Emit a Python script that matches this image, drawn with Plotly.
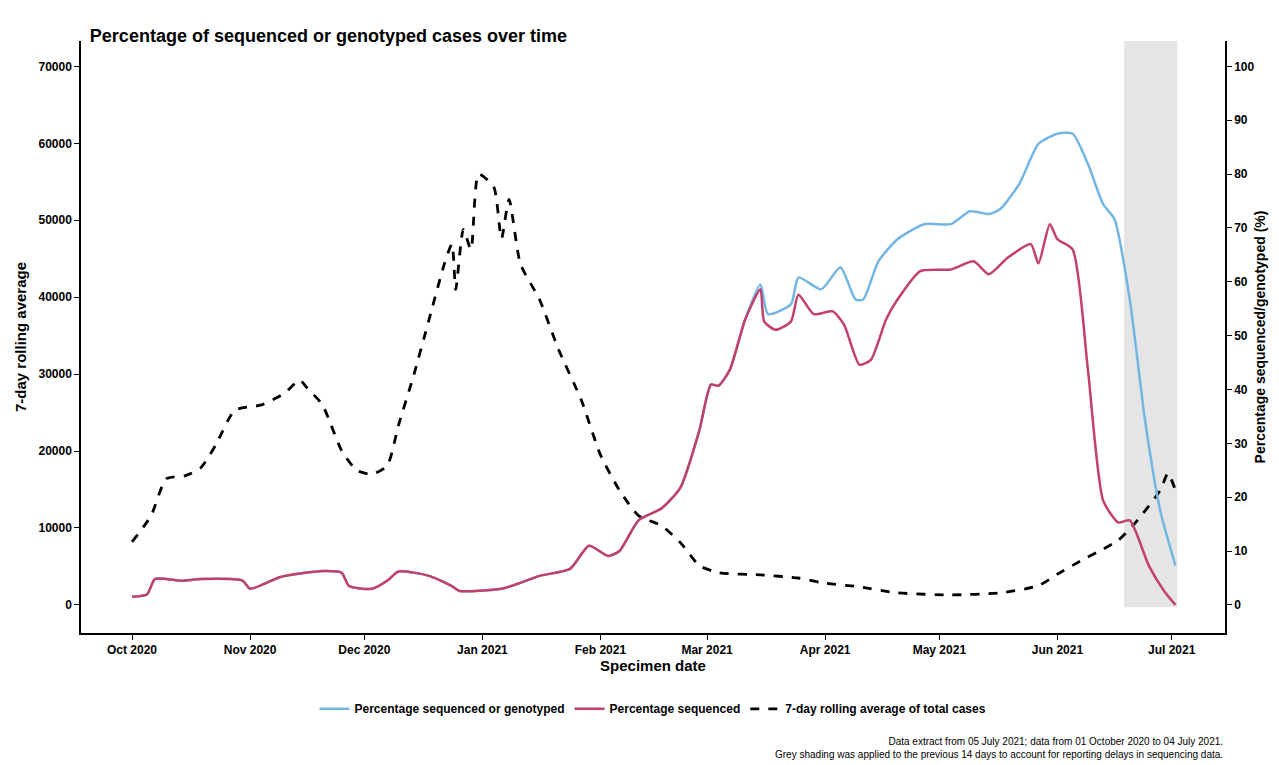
import pandas as pd
import plotly.graph_objects as go

start = pd.Timestamp("2020-10-01")

case_days = [0,5,9,14,18,22,27,34,40,44,46,50,55,59,63,67,70,74,78,82,84,85,87,89,91,95,97,99,102,107,112,118,123,128,133,139,144,149,154,165,175,181,191,201,215,228,238,243,249,254,259,264,270,272,274]
case_vals = [8200,11600,16400,16800,17800,20800,25300,26000,27500,29200,28200,26000,20100,17500,17000,18100,23400,29900,37100,44300,46900,41000,48800,46200,56000,54300,47600,52700,44300,39700,33200,26600,19500,14900,11600,10300,8100,5100,4200,3900,3500,2900,2350,1570,1300,1570,2500,4000,5700,7000,8400,11000,14900,17100,14900]

seq_days = [0,4,6,13,18,29,31,39,50,55,57,63,67,70,78,84,86,97,102,107,115,120,125,128,133,139,144,149,152,154,157,161,165,166,169,173,175,179,184,187,191,194,198,201,207,215,221,225,230,236,238,241,243,247,251,255,259,262,267,271,274]
seq_vals = [1.5,2,4.8,4.5,4.8,4.5,3,5.2,6.3,6,3.5,3,4.5,6.2,5.4,3.5,2.6,3,4.1,5.4,6.7,11,9.1,10,15.7,17.9,21.8,32.5,40.9,40.7,43.7,53,58.6,52.6,51.1,52.6,57.6,54,54.5,52,44.6,45.5,53,56.7,62,62.3,63.8,61.4,64.5,67,63.4,70.7,67.9,66,43.7,19.4,15.3,15.7,7.3,2.6,0]

gen_days = seq_days[:32] + [165,167,173,175,181,186,190,192,196,201,208,215,220,225,228,233,238,243,247,251,255,258,262,266,270,274]
gen_vals = seq_vals[:32] + [59.5,54,55.8,60.8,58.6,62.7,56.7,56.7,63.8,67.9,70.7,70.7,73.1,72.6,73.5,78.2,85.6,87.5,87.5,81.9,74.4,71.6,56.7,34.3,17.5,7.3]

def dates(d):
    return [start + pd.Timedelta(days=x) for x in d]

fig = go.Figure()
fig.add_shape(type="rect", xref="x", yref="y", x0=start+pd.Timedelta(days=260.5), x1=start+pd.Timedelta(days=274.5),
              y0=-300, y1=73500, fillcolor="#E5E5E5", line_width=0, layer="below")
fig.add_trace(go.Scatter(x=dates(gen_days), y=gen_vals, yaxis="y2", mode="lines",
                         line=dict(color="#74B6E3", width=2.5, shape="spline", smoothing=0.6), name="Percentage sequenced or genotyped"))
fig.add_trace(go.Scatter(x=dates(seq_days), y=seq_vals, yaxis="y2", mode="lines",
                         line=dict(color="#C4406C", width=2.5, shape="spline", smoothing=0.6), name="Percentage sequenced"))
fig.add_trace(go.Scatter(x=dates(case_days), y=case_vals, mode="lines",
                         line=dict(color="black", width=2.8, dash="dash", shape="spline", smoothing=0.6), name="7-day rolling average of total cases"))

fnt = dict(family="Liberation Sans, Arial", color="black")
fig.update_layout(
    width=1279, height=765, plot_bgcolor="white", paper_bgcolor="white",
    margin=dict(l=73, r=62, t=33, b=140),
    font=dict(family="Liberation Sans, Arial", size=12, color="black"),
    title=dict(text="<b>Percentage of sequenced or genotyped cases over time</b>", x=0.064, xanchor="left", y=0.972, font=dict(size=18, **fnt)),
    xaxis=dict(range=[start-pd.Timedelta(days=13.4), start+pd.Timedelta(days=287)],
               tickvals=[f"{y}-{m:02d}-01" for y, m in [(2020,10),(2020,11),(2020,12),(2021,1),(2021,2),(2021,3),(2021,4),(2021,5),(2021,6),(2021,7)]],
               ticktext=["Oct 2020","Nov 2020","Dec 2020","Jan 2021","Feb 2021","Mar 2021","Apr 2021","May 2021","Jun 2021","Jul 2021"],
               showline=True, linecolor="black", linewidth=1.5, ticks="outside", tickcolor="black", showgrid=False, zeroline=False,
               title=dict(text="<b>Specimen date</b>", font=dict(size=15), standoff=2), tickfont=dict(size=12, weight="bold")),
    yaxis=dict(range=[-3650, 73300], tickvals=list(range(0, 70001, 10000)), tickformat="d", showline=True, linecolor="black", linewidth=1.5,
               ticks="outside", tickcolor="black", showgrid=False, zeroline=False,
               title=dict(text="<b>7-day rolling average</b>", font=dict(size=15), standoff=8), tickfont=dict(size=12, weight="bold")),
    yaxis2=dict(range=[-3650/700, 73300/700], tickvals=list(range(0, 101, 10)), overlaying="y", side="right",
                showline=True, linecolor="black", linewidth=1.5, ticks="outside", tickcolor="black", showgrid=False, zeroline=False,
                title=dict(text="<b>Percentage sequenced/genotyped (%)</b>", font=dict(size=14), standoff=2), tickfont=dict(size=12, weight="bold")),
    legend=dict(orientation="h", x=0.5, xanchor="center", y=-0.128, yanchor="middle", font=dict(size=12, weight="bold")),
    showlegend=True,
)
fig.add_annotation(xref="paper", yref="paper", x=1.0, y=-0.17, xanchor="right", yanchor="top", showarrow=False, align="right",
                   text="Data extract from 05 July 2021; data from 01 October 2020 to 04 July 2021.<br>Grey shading was applied to the previous 14 days to account for reporting delays in sequencing data.",
                   font=dict(size=10))
fig.write_html("out.html")
